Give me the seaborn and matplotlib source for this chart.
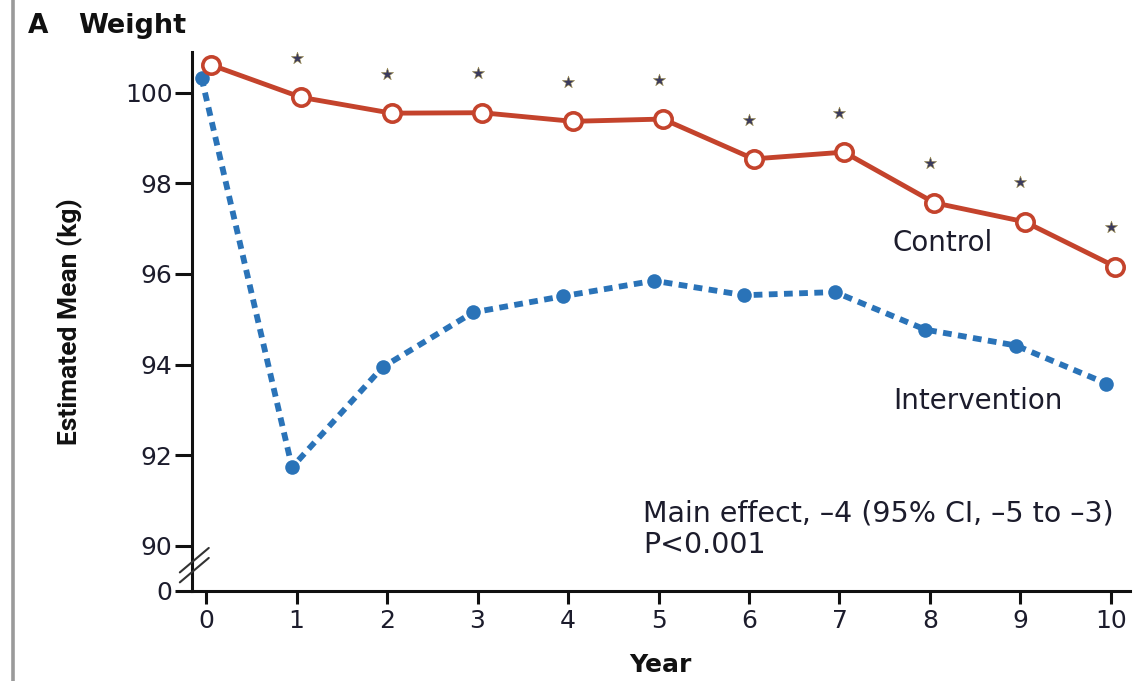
import numpy as np
import pandas as pd
import matplotlib
matplotlib.use("Agg")
import matplotlib.pyplot as plt
import seaborn as sns

# Estimated mean weight (kg) by study year
years = [0, 1, 2, 3, 4, 5, 6, 7, 8, 9, 10]
control = [100.62, 99.90, 99.55, 99.56, 99.37, 99.42, 98.54, 98.69, 97.57, 97.15, 96.16]
intervention = [100.33, 91.73, 93.94, 95.15, 95.51, 95.85, 95.53, 95.60, 94.77, 94.42, 93.58]
significant_years = [1, 2, 3, 4, 5, 6, 7, 8, 9, 10]
y_ticks = [90, 92, 94, 96, 98, 100]
x_ticks = years

RED = "#c4432c"
BLUE = "#2a73b8"
INK = "#1c1c2c"

sns.set_theme(style="ticks")
plt.rcParams["font.family"] = ["DejaVu Sans"]

df = pd.DataFrame({"Year": years, "Control": control, "Intervention": intervention})

fig = plt.figure(figsize=(11.37, 6.81), dpi=100)
ax = fig.add_axes([0.1689, 0.1322, 0.8249, 0.7914])

# small horizontal dodge so the two series don't overlap at baseline
dodge = 0.05
df["xc"] = df["Year"] + dodge
df["xi"] = df["Year"] - dodge

sns.lineplot(data=df, x="xi", y="Intervention", ax=ax, color=BLUE, lw=4.2,
             linestyle=(0, (1.5, 1.1)), marker="o", markersize=10.5,
             markeredgewidth=0, markerfacecolor=BLUE, zorder=3)
sns.lineplot(data=df, x="xc", y="Control", ax=ax, color=RED, lw=3.5,
             marker="o", markersize=12.5, markeredgewidth=2.6,
             markerfacecolor="white", markeredgecolor=RED, zorder=4)

# significance stars above the control series
star_offset = 0.87
sig = df[df["Year"].isin(significant_years)]
ax.scatter(sig["Year"], sig["Control"] + star_offset, marker="*", s=85,
           color="#3a3a5e", edgecolors="#9a8a4a", linewidths=0.4, zorder=5)

ax.set_xlim(-0.155, 10.21)
ax.set_ylim(89.0, 100.9)
ax.set_xticks(x_ticks)
ax.set_xticklabels([str(v) for v in x_ticks])
ax.set_yticks(y_ticks + [89.0])
ax.set_yticklabels([str(v) for v in y_ticks] + ["0"])
ax.set_xlabel("")
ax.set_ylabel("")

for side in ["top", "right"]:
    ax.spines[side].set_visible(False)
for side in ["left", "bottom"]:
    ax.spines[side].set_linewidth(2.2)
    ax.spines[side].set_color("#111111")
ax.tick_params(axis="both", direction="out", width=2.2, color="#111111",
               labelsize=18, labelcolor=INK)
ax.tick_params(axis="y", length=12, pad=2)
ax.tick_params(axis="x", length=9, pad=4)

# axis break marks between 0 and 90
for dy in (-0.11, 0.11):
    ax.plot([-0.29, 0.03], [89.3 + dy, 89.84 + dy], color="#333333", lw=1.5,
            clip_on=False, zorder=6)

ax.text(7.59, 96.68, "Control", fontsize=20, color=INK, va="center", ha="left")
ax.text(7.59, 93.19, "Intervention", fontsize=20, color=INK, va="center", ha="left")
ax.text(4.83, 90.72, "Main effect, \u20134 (95% CI, \u20135 to \u20133)", fontsize=20.5,
        color=INK, va="center", ha="left")
ax.text(4.83, 90.02, "P<0.001", fontsize=20.5, color=INK, va="center", ha="left")

fig.text(28 / 1137, 1 - 26 / 681, "A", fontsize=19, fontweight="bold", color="#111111",
         va="center", ha="left")
fig.text(78 / 1137, 1 - 26 / 681, "Weight", fontsize=19.5, fontweight="bold",
         color="#111111", va="center", ha="left")
fig.text(660 / 1137, 1 - 665 / 681, "Year", fontsize=18, fontweight="bold",
         color="#111111", va="center", ha="center")
fig.text(70 / 1137, 1 - 322 / 681, "Estimated Mean (kg)", fontsize=19,
         family=["Roboto", "DejaVu Sans"], fontweight="bold",
         color="#111111", rotation=90, va="center", ha="center")

# panel frame line on the left edge
fig.add_artist(plt.Line2D([13 / 1137, 13 / 1137], [0, 1], color="#9a9a9a", lw=2.6,
                          transform=fig.transFigure))

fig.savefig("out.png", dpi=100)
